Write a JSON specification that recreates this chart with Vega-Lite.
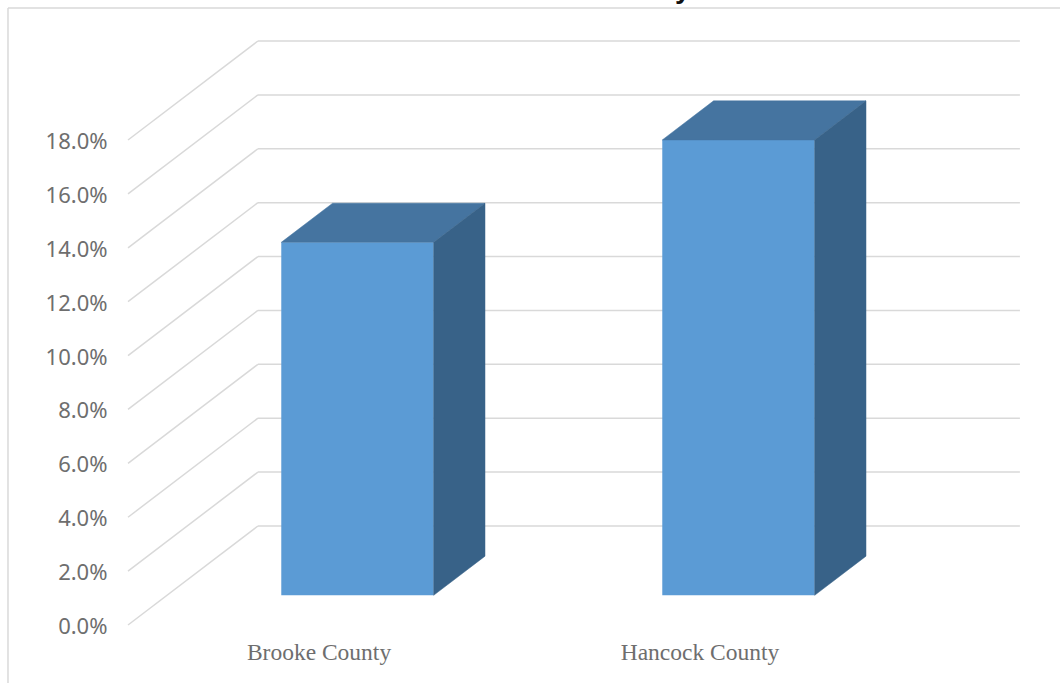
{
  "$schema": "https://vega.github.io/schema/vega-lite/v6.json",
  "width": 762,
  "height": 584,
  "autosize": "none",
  "padding": {"left": 128, "top": 41, "right": 170, "bottom": 58},
  "background": "white",
  "params": [
    {"name": "wallX", "value": 0.341},
    {"name": "wallY", "value": 0.03675},
    {"name": "nearD", "value": 0.3},
    {"name": "farD", "value": 0.695},
    {"name": "halfBar", "value": 0.2}
  ],
  "datasets": {
    "counties": [
      {"county": "Brooke County", "share": 0.131},
      {"county": "Hancock County", "share": 0.169}
    ],
    "ticks": [
      {"tick": 0}, {"tick": 0.02}, {"tick": 0.04}, {"tick": 0.06}, {"tick": 0.08},
      {"tick": 0.1}, {"tick": 0.12}, {"tick": 0.14}, {"tick": 0.16}, {"tick": 0.18}
    ],
    "frame": [
      {"left": -0.315, "right": 2.6, "bottom": -0.03, "top": 0.229}
    ],
    "heading": [
      {"glyph": "y", "along": 1.436, "level": 0.2327}
    ]
  },
  "encoding": {
    "x": {
      "field": "px",
      "type": "quantitative",
      "title": null,
      "scale": {"domain": [0, 2], "nice": false, "zero": false},
      "axis": {
        "values": [0.5, 1.5],
        "labelExpr": "datum.value < 1 ? 'Brooke County' : 'Hancock County'",
        "domain": false,
        "ticks": false,
        "grid": false,
        "labelPadding": 15,
        "labelFont": "Liberation Serif",
        "labelFontSize": 23.5,
        "labelColor": "#6e6e6e"
      }
    },
    "y": {
      "field": "pv",
      "type": "quantitative",
      "title": null,
      "scale": {"domain": [0, 0.21675], "nice": false, "zero": false},
      "axis": {
        "values": [0, 0.02, 0.04, 0.06, 0.08, 0.1, 0.12, 0.14, 0.16, 0.18],
        "format": ".1%",
        "domain": false,
        "ticks": false,
        "grid": false,
        "labelPadding": 21,
        "labelOffset": 1.5,
        "labelFont": "Noto Sans",
        "labelFontSize": 22,
        "labelColor": "#6e6e6e"
      }
    }
  },
  "layer": [
    {
      "data": {"name": "frame"},
      "transform": [
        {"calculate": "datum.left", "as": "px"},
        {"calculate": "datum.bottom", "as": "pv"},
        {"calculate": "datum.top", "as": "pv2"}
      ],
      "mark": {"type": "rule", "stroke": "#d9d9d9", "strokeWidth": 1.5},
      "encoding": {"y2": {"field": "pv2"}}
    },
    {
      "data": {"name": "frame"},
      "transform": [
        {"calculate": "datum.left", "as": "px"},
        {"calculate": "datum.right", "as": "px2"},
        {"calculate": "datum.top", "as": "pv"}
      ],
      "mark": {"type": "rule", "stroke": "#d9d9d9", "strokeWidth": 1.5},
      "encoding": {"x2": {"field": "px2"}}
    },
    {
      "data": {"name": "heading"},
      "transform": [
        {"calculate": "datum.along", "as": "px"},
        {"calculate": "datum.level", "as": "pv"}
      ],
      "mark": {"type": "text", "align": "left", "baseline": "alphabetic", "font": "Liberation Sans", "fontWeight": "bold", "fontSize": 28, "fill": "#111111"},
      "encoding": {"text": {"field": "glyph"}}
    },
    {
      "data": {"name": "ticks"},
      "transform": [
        {"calculate": "wallX", "as": "px"},
        {"calculate": "wallX + 2", "as": "px2"},
        {"calculate": "datum.tick + wallY", "as": "pv"}
      ],
      "mark": {"type": "rule", "stroke": "#d9d9d9", "strokeWidth": 1.5},
      "encoding": {"x2": {"field": "px2"}}
    },
    {
      "data": {"name": "ticks"},
      "transform": [
        {"calculate": "0", "as": "px"},
        {"calculate": "wallX", "as": "px2"},
        {"calculate": "datum.tick", "as": "pv"},
        {"calculate": "datum.tick + wallY", "as": "pv2"}
      ],
      "mark": {"type": "rule", "stroke": "#d9d9d9", "strokeWidth": 1.5},
      "encoding": {"x2": {"field": "px2"}, "y2": {"field": "pv2"}}
    },
    {
      "data": {"name": "counties"},
      "transform": [
        {"calculate": "indexof(['Brooke County', 'Hancock County'], datum.county) + 0.5 + wallX * nearD", "as": "mid"},
        {"calculate": "datum.mid - halfBar", "as": "px"},
        {"calculate": "datum.mid + halfBar", "as": "px2"},
        {"calculate": "datum.share + wallY * nearD", "as": "pv"},
        {"calculate": "wallY * nearD", "as": "pv2"}
      ],
      "mark": {"type": "rect", "fill": "#5b9bd5"},
      "encoding": {"x2": {"field": "px2"}, "y2": {"field": "pv2"}}
    },
    {
      "data": {"name": "counties"},
      "transform": [
        {"calculate": "indexof(['Brooke County', 'Hancock County'], datum.county) + 0.5 + wallX * nearD", "as": "mid"},
        {"calculate": "wallX * (farD - nearD)", "as": "run"},
        {"calculate": "[0, 1, 2, 3]", "as": "corner"},
        {"flatten": ["corner"]},
        {"calculate": "datum.corner == 0 ? datum.mid - halfBar : datum.corner == 1 ? datum.mid - halfBar + datum.run : datum.corner == 2 ? datum.mid + halfBar : datum.mid + halfBar + datum.run", "as": "px"},
        {"calculate": "datum.share + wallY * (datum.corner == 0 ? nearD : farD)", "as": "pv"},
        {"calculate": "datum.share + wallY * (datum.corner == 3 ? farD : nearD)", "as": "pv2"}
      ],
      "mark": {"type": "area", "fill": "#4574a0", "stroke": "#4574a0", "strokeWidth": 0.5, "interpolate": "linear"},
      "encoding": {"y2": {"field": "pv2"}, "detail": {"field": "county"}}
    },
    {
      "data": {"name": "counties"},
      "transform": [
        {"calculate": "indexof(['Brooke County', 'Hancock County'], datum.county) + 0.5 + wallX * nearD", "as": "mid"},
        {"calculate": "[0, 1]", "as": "corner"},
        {"flatten": ["corner"]},
        {"calculate": "datum.mid + halfBar + datum.corner * wallX * (farD - nearD)", "as": "px"},
        {"calculate": "wallY * (datum.corner == 0 ? nearD : farD)", "as": "pv2"},
        {"calculate": "datum.share + datum.pv2", "as": "pv"}
      ],
      "mark": {"type": "area", "fill": "#386288", "stroke": "#386288", "strokeWidth": 0.5, "interpolate": "linear"},
      "encoding": {"y2": {"field": "pv2"}, "detail": {"field": "county"}}
    }
  ],
  "config": {"view": {"stroke": null}}
}
